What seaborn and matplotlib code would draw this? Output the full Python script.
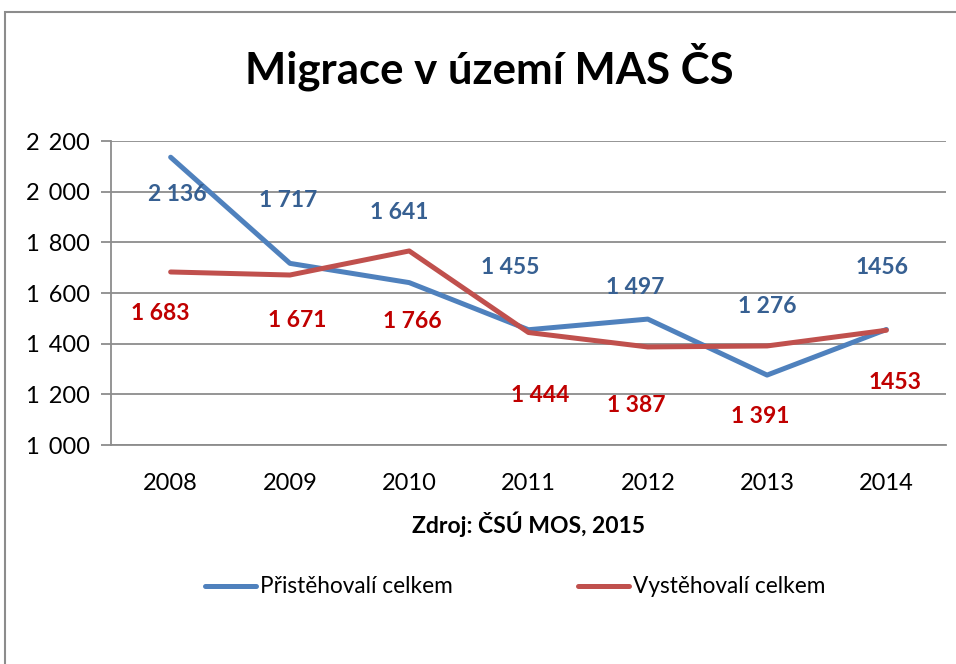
import matplotlib
matplotlib.use("Agg")
import matplotlib.pyplot as plt
import seaborn as sns
import pandas as pd
from matplotlib.patches import Rectangle
from matplotlib.ticker import FuncFormatter

# Data
years = [2008, 2009, 2010, 2011, 2012, 2013, 2014]
prist = [2136, 1717, 1641, 1455, 1497, 1276, 1456]
vyst = [1683, 1671, 1766, 1444, 1387, 1391, 1453]
prist_labels = ["2 136", "1 717", "1 641", "1 455", "1 497", "1 276", "1456"]
vyst_labels = ["1 683", "1 671", "1 766", "1 444", "1 387", "1 391", "1453"]
series_names = ["Přistěhovalí celkem", "Vystěhovalí celkem"]

# label offsets in pixels (Excel had them hand-placed)
prist_off = [(7, -37), (-2, 63), (-10, 70), (-18, 62), (-13, 32), (0, 69), (-4, 62)]
vyst_off = [(-10, -42), (7, -45), (3, -71), (12, -63), (-12, -59), (-7, -71), (9, -52)]

df = pd.DataFrame({
    "rok": years * 2,
    "pocet": prist + vyst,
    "serie": [series_names[0]] * len(years) + [series_names[1]] * len(years),
})

sns.set_style("white")
plt.rcParams["font.family"] = ["Lato", "DejaVu Sans"]
plt.rcParams["text.color"] = "black"
plt.rcParams["xtick.color"] = "black"
plt.rcParams["ytick.color"] = "black"
plt.rcParams["axes.labelcolor"] = "black"

fig = plt.figure(figsize=(9.56, 6.64), dpi=100)
ax = fig.add_axes([111 / 956, (664 - 445) / 664, 835 / 956, 304 / 664])

# outer chart border (cut off at right/bottom like the screenshot)
fig.patches.append(Rectangle((5 / 956, -0.1), 1.2, (652 / 664) + 0.1,
                             transform=fig.transFigure, fill=False,
                             edgecolor="#8c8c8c", linewidth=1.5))

palette = {series_names[0]: "#4F81BD", series_names[1]: "#C0504D"}
sns.lineplot(data=df, x="rok", y="pocet", hue="serie", palette=palette,
             linewidth=3.6, ax=ax, legend=False)

for x, y, t, (dx, dy) in zip(years, prist, prist_labels, prist_off):
    ax.annotate(t, (x, y), xytext=(dx, dy), textcoords="offset pixels",
                ha="center", va="center", fontsize=16.5, fontweight="bold",
                color="#376092")
for x, y, t, (dx, dy) in zip(years, vyst, vyst_labels, vyst_off):
    ax.annotate(t, (x, y), xytext=(dx, dy), textcoords="offset pixels",
                ha="center", va="center", fontsize=16.5, fontweight="bold",
                color="#C00000")

ax.set_xlim(2007.5, 2014.5)
ax.set_ylim(1000, 2200)
ax.set_xticks(years)
ax.set_yticks(range(1000, 2201, 200))
ax.yaxis.set_major_formatter(FuncFormatter(lambda v, p: f"{int(v):,}".replace(",", "\u2009 ")))
ax.grid(axis="y", color="#8c8c8c", linewidth=1.3)
ax.set_axisbelow(True)
for s in ["top", "right"]:
    ax.spines[s].set_visible(False)
for s in ["left", "bottom"]:
    ax.spines[s].set_color("#8c8c8c")
    ax.spines[s].set_linewidth(1.3)
ax.tick_params(axis="y", left=True, length=7, width=1.3, color="#8c8c8c",
               labelcolor="black", labelsize=17, pad=8)
ax.tick_params(axis="x", bottom=False, labelsize=17, pad=17)

ax.set_xlabel("Zdroj: ČSÚ MOS, 2015", fontsize=16.5, fontweight="bold", labelpad=12)
ax.set_ylabel("")

fig.text(0.512, 0.899, "Migrace v území MAS ČS", ha="center", va="center",
         fontsize=31.5, fontweight="bold")

handles = [plt.Line2D([], [], color=palette[n], linewidth=3.6) for n in series_names]
fig.legend(handles, series_names, loc="center", bbox_to_anchor=(0.539, 0.116),
           ncol=2, frameon=False, fontsize=16.3, handlelength=2.25,
           handletextpad=0.2, columnspacing=5.5)

fig.savefig("out.png", dpi=100)
